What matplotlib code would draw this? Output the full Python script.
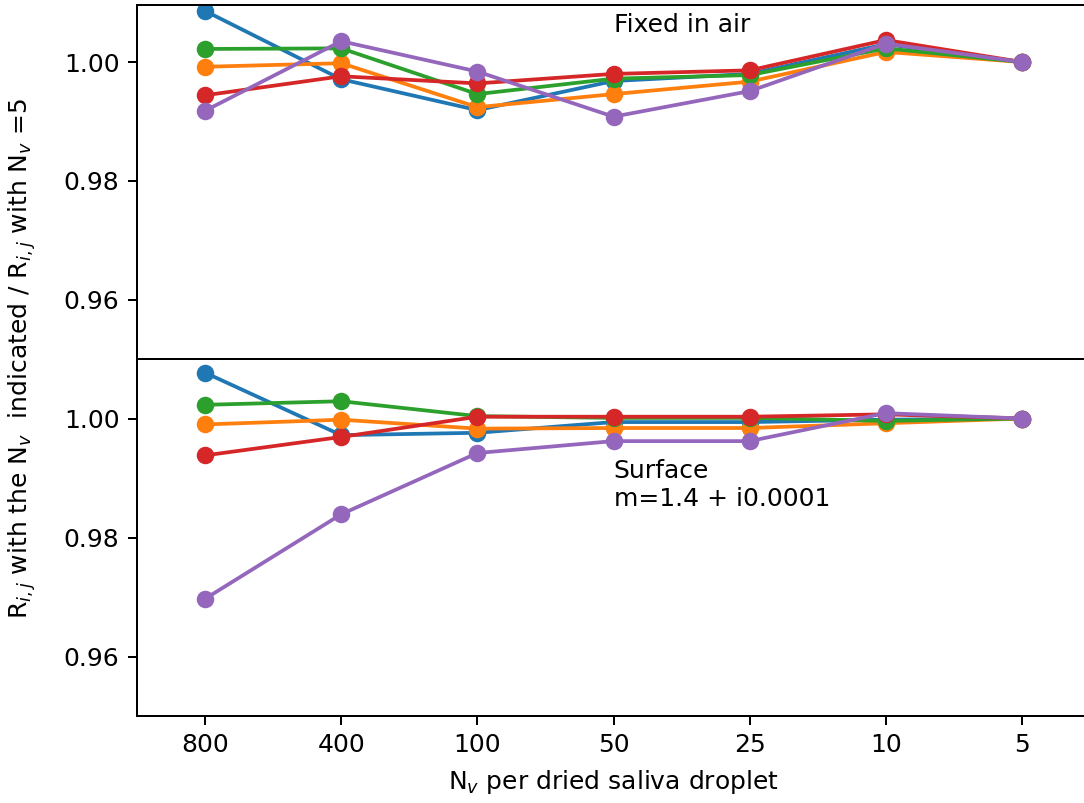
import matplotlib
matplotlib.use('Agg')
import matplotlib.pyplot as plt

# x categories (N_v per droplet)
etiquetas_x = ['800', '400', '100', '50', '25', '10', '5']
posicoes = list(range(len(etiquetas_x)))

# top panel: fixed in air
ar_azul = [1.0086, 0.9971, 0.9919, 0.9968, 0.9980, 1.0030, 1.0]
ar_laranja = [0.9992, 0.9998, 0.9924, 0.9946, 0.9967, 1.0017, 1.0]
ar_verde = [1.0022, 1.0023, 0.9946, 0.9972, 0.9978, 1.0023, 1.0]
ar_vermelho = [0.9944, 0.9976, 0.9964, 0.9980, 0.9986, 1.0037, 1.0]
ar_roxo = [0.9918, 1.0035, 0.9984, 0.9908, 0.9951, 1.0031, 1.0]

# bottom panel: surface
sup_azul = [1.0077, 0.9972, 0.9976, 0.9994, 0.9994, 0.9998, 1.0]
sup_laranja = [0.9990, 0.9998, 0.9983, 0.9984, 0.9984, 0.9992, 1.0]
sup_verde = [1.0023, 1.0029, 1.0004, 1.0001, 1.0001, 0.9996, 1.0]
sup_vermelho = [0.9938, 0.9969, 1.0003, 1.0003, 1.0003, 1.0007, 1.0]
sup_roxo = [0.9697, 0.9839, 0.9942, 0.9962, 0.9962, 1.0009, 1.0]

W, H = 1084, 803
fig = plt.figure(figsize=(W / 180, H / 180), dpi=180)

esq = 137 / W
larg = (1090 - 137) / W
ax1 = fig.add_axes([esq, 1 - 359 / H, larg, 354 / H])
ax2 = fig.add_axes([esq, 1 - 716 / H, larg, 357 / H], sharex=ax1)

for serie in [ar_azul, ar_laranja, ar_verde, ar_vermelho, ar_roxo]:
    ax1.plot(posicoes, serie, marker='o')
for serie in [sup_azul, sup_laranja, sup_verde, sup_vermelho, sup_roxo]:
    ax2.plot(posicoes, serie, marker='o')

ax1.set_ylim(0.95, 1.0096)
ax2.set_ylim(0.95, 1.01)
ax1.set_yticks([0.96, 0.98, 1.00])
ax2.set_yticks([0.96, 0.98, 1.00])
ax1.set_xlim(-0.5, 6.5)
ax2.set_xticks(posicoes)
ax2.set_xticklabels(etiquetas_x)
ax1.tick_params(axis='x', bottom=False, labelbottom=False)

ax1.text(3, 1.0051, 'Fixed in air')
ax2.text(3, 0.9853, 'Surface\nm=1.4 + i0.0001')

ax2.set_xlabel('N$_v$ per dried saliva droplet')
fig.text(22 / W, 1 - 358 / H,
         'R$_{i,j}$ with the N$_v$  indicated / R$_{i,j}$ with N$_v$ =5',
         rotation=90, ha='center', va='center')

plt.savefig('out.png', dpi=180)
